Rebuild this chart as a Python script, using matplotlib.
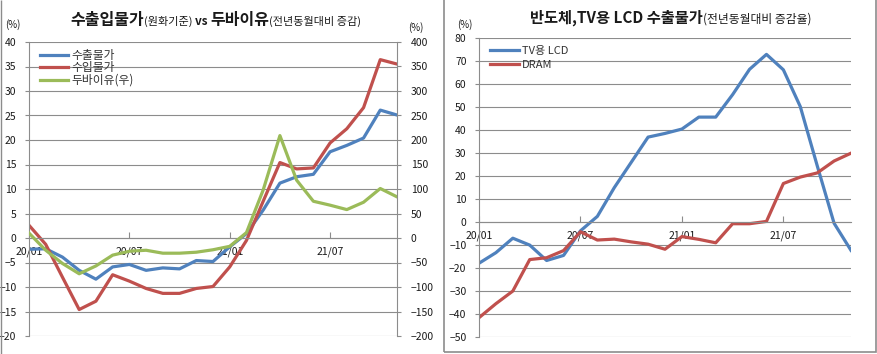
import matplotlib
matplotlib.use('Agg')
import matplotlib.pyplot as plt
import matplotlib.transforms as mtransforms
from matplotlib.patches import Rectangle

plt.rcParams['font.family'] = ['Noto Sans CJK KR', 'DejaVu Sans']

# month categories 20/01 .. 21/11
months = ['20/01', '20/02', '20/03', '20/04', '20/05', '20/06', '20/07', '20/08',
          '20/09', '20/10', '20/11', '20/12', '21/01', '21/02', '21/03', '21/04',
          '21/05', '21/06', '21/07', '21/08', '21/09', '21/10', '21/11']
tick_months = ['20/01', '20/07', '21/01', '21/07']

# left chart (%, YoY)
export_price = [-2.3, -2.2, -3.9, -6.6, -8.4, -5.9, -5.4, -6.6, -6.1, -6.3, -4.6, -4.8,
                -1.8, 0.9, 5.7, 11.2, 12.5, 13.0, 17.6, 18.9, 20.4, 26.1, 25.1]
import_price = [2.6, -1.3, -8.0, -14.6, -12.9, -7.5, -8.8, -10.3, -11.3, -11.3, -10.3, -9.9,
                -5.9, -0.5, 7.5, 15.4, 14.1, 14.3, 19.4, 22.3, 26.6, 36.4, 35.5]
dubai = [10, -25, -52, -73, -57, -35, -27, -25, -31, -31, -29, -24,
         -17, 11, 98, 209, 118, 75, 67, 58, 73, 101, 84]

# right chart (%, YoY)
tv_lcd = [-17.9, -13.3, -7.0, -10.0, -16.7, -14.5, -3.8, 2.5, 15.0, 26.0, 37.0, 38.6,
          40.5, 45.7, 45.7, 55.5, 66.5, 73.0, 66.3, 50.3, 24.6, -0.5, -12.3]
dram = [-41.6, -35.5, -30.0, -16.3, -15.5, -12.4, -4.2, -7.8, -7.4, -8.6, -9.6, -11.8,
        -6.3, -7.5, -9.0, -0.7, -0.7, 0.3, 16.8, 19.6, 21.4, 26.6, 30.0]

BLUE = '#4F81BD'
RED = '#C0504D'
GREEN = '#9BBB59'
GRID = '#8c8c8c'
TXT = '#1a1a1a'

W, H = 878, 354
fig = plt.figure(figsize=(W / 100, H / 100), dpi=100)
px = mtransforms.IdentityTransform()


def rich_title(parts, xc, y_top):
    # parts of different sizes on one baseline, centred on xc (pixels)
    r = fig.canvas.get_renderer()
    texts = []
    for s, size, weight in parts:
        t = fig.text(0, 0, s, fontsize=size, fontweight=weight, color=TXT,
                     va='baseline', ha='left', transform=px)
        texts.append(t)
    widths = [t.get_window_extent(r).width for t in texts]
    x = xc - sum(widths) / 2
    for t, w in zip(texts, widths):
        t.set_position((x, H - y_top))
        x += w


def style_axis(ax):
    for side in ['top', 'right']:
        ax.spines[side].set_visible(False)
    ax.spines['left'].set_color(GRID)
    ax.spines['left'].set_linewidth(0.8)
    ax.spines['bottom'].set_position(('data', 0))
    ax.spines['bottom'].set_color(GRID)
    ax.spines['bottom'].set_linewidth(0.8)
    ax.grid(axis='y', color=GRID, lw=0.8)
    ax.set_axisbelow(True)
    ax.tick_params(axis='x', direction='in', length=4, pad=6, colors=GRID,
                   labelcolor=TXT, labelsize=7.5)
    ax.tick_params(axis='y', direction='out', length=3, pad=6, colors=GRID,
                   labelcolor=TXT, labelsize=7.5)
    ax.set_xticks([months.index(m) for m in tick_months])
    ax.set_xticklabels(tick_months)


x = list(range(len(months)))

# ---- left chart
axL = fig.add_axes([29 / W, 1 - 336 / H, 368 / W, 294 / H])
axL.set_xlim(0, len(months) - 1)
axL.set_ylim(-20, 40)
axL.set_yticks(range(-20, 41, 5))
style_axis(axL)
l1, = axL.plot(x, export_price, color=BLUE, lw=2.3, label='수출물가')
l2, = axL.plot(x, import_price, color=RED, lw=2.3, label='수입물가')

axL2 = axL.twinx()
axL2.set_ylim(-200, 400)
axL2.set_yticks(range(-200, 401, 50))
for side in ['top', 'bottom', 'left']:
    axL2.spines[side].set_visible(False)
axL2.spines['right'].set_color(GRID)
axL2.spines['right'].set_linewidth(0.8)
axL2.tick_params(axis='y', direction='out', length=3, pad=7, colors=GRID,
                 labelcolor=TXT, labelsize=7.5)
l3, = axL2.plot(x, dubai, color=GREEN, lw=2.3, label='두바이유(우)')

leg = axL2.legend(handles=[l1, l2, l3], loc='upper left', bbox_to_anchor=(0.01, 1.0),
                  frameon=False, fontsize=8.5, handlelength=2.4, handletextpad=0.25,
                  labelspacing=-0.05, borderaxespad=0.2)
for t in leg.get_texts():
    t.set_color('#333333')

fig.text(13, H - 25, '(%)', fontsize=7, color=TXT, ha='center', va='center', transform=px)
fig.text(416, H - 28, '(%)', fontsize=7, color=TXT, ha='center', va='center', transform=px)

rich_title([('수출입물가', 11.5, 'bold'), ('(원화기준) ', 8, 'normal'),
            ('vs ', 8.5, 'bold'), ('두바이유', 11.5, 'bold'),
            ('(전년동월대비 증감)', 8, 'normal')], 216, 25)

# ---- right chart
axR = fig.add_axes([479 / W, 1 - 337 / H, 372 / W, 298.7 / H])
axR.set_xlim(0, len(months) - 1)
axR.set_ylim(-50, 80)
axR.set_yticks(range(-50, 81, 10))
style_axis(axR)
axR.plot(x, tv_lcd, color=BLUE, lw=2.3, label='TV용 LCD')
axR.plot(x, dram, color=RED, lw=2.3, label='DRAM')
legR = axR.legend(loc='upper left', bbox_to_anchor=(0.01, 1.0), frameon=False,
                  fontsize=8, handlelength=2.6, handletextpad=0.2,
                  labelspacing=0.35, borderaxespad=0.3)
for t in legR.get_texts():
    t.set_color('#333333')

fig.text(465, H - 25, '(%)', fontsize=7, color=TXT, ha='center', va='center', transform=px)

rich_title([('반도체,TV용 LCD 수출물가', 11, 'bold'),
            ('(전년동월대비 증감율)', 8.5, 'normal')], 671, 23)

# panel borders
fig.patches.append(Rectangle((1, 0), 0, H, transform=px, fill=False,
                             edgecolor=GRID, lw=1))
fig.patches.append(Rectangle((444, 2), 432, H + 5, transform=px, fill=False,
                             edgecolor=GRID, lw=1.2))

fig.savefig('out.png', dpi=100)
